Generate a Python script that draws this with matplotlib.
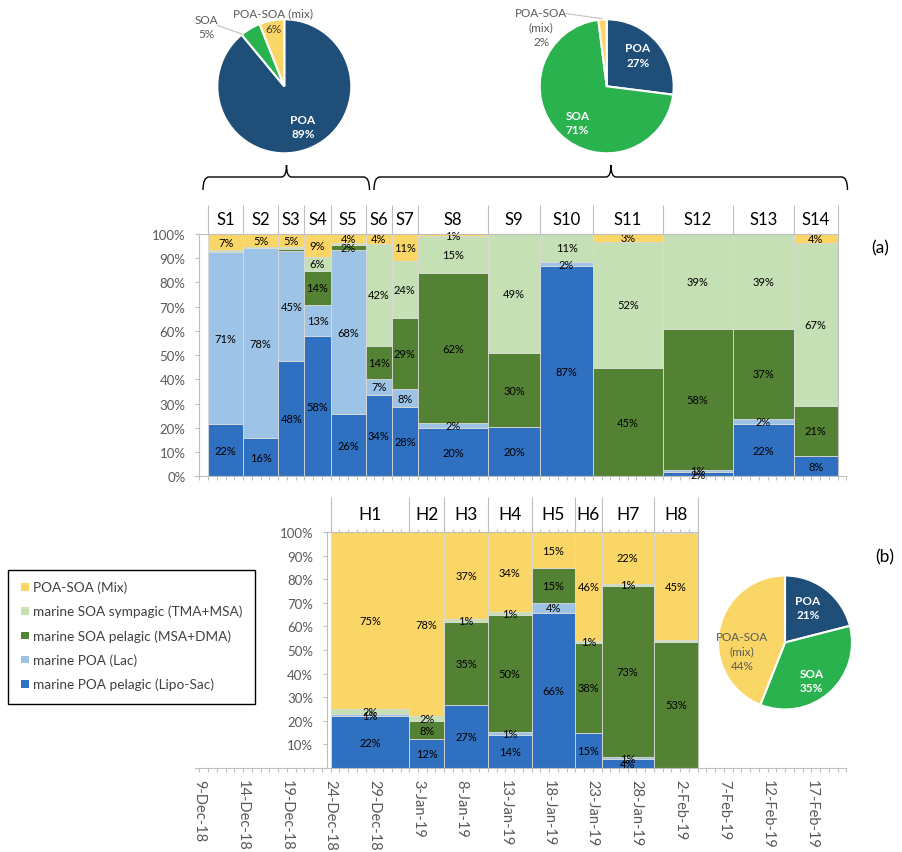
import matplotlib
matplotlib.use('Agg')
import matplotlib.pyplot as plt
from matplotlib.patches import Rectangle, PathPatch
from matplotlib.path import Path
import numpy as np
import datetime as dt

plt.rcParams['font.family'] = ['Lato', 'DejaVu Sans']

W, H, DPI = 903, 853, 100

# ---------------- data ----------------
series_names = ['marine POA pelagic (Lipo-Sac)', 'marine POA (Lac)',
                'marine SOA pelagic (MSA+DMA)', 'marine SOA sympagic (TMA+MSA)',
                'POA-SOA (Mix)']
series_colors = ['#3070C0', '#9DC3E6', '#548235', '#C5E0B4', '#FAD666']

ship_samples = ['S1', 'S2', 'S3', 'S4', 'S5', 'S6', 'S7', 'S8', 'S9', 'S10',
                'S11', 'S12', 'S13', 'S14']
ship_edges = ['2018-12-10', '2018-12-14', '2018-12-18', '2018-12-21', '2018-12-24',
              '2018-12-28', '2018-12-31', '2019-01-03', '2019-01-11', '2019-01-17',
              '2019-01-23', '2019-01-31', '2019-02-08', '2019-02-15', '2019-02-20']
ship_poa_pelagic = [21.6, 15.7, 47.5, 58.0, 25.6, 33.6, 28.4, 19.8, 20.4, 86.6, 0, 1.8, 21.7, 8.3]
ship_poa_lac = [70.8, 78.4, 45.3, 12.8, 67.9, 6.6, 7.6, 2.0, 0, 2.0, 0, 1.0, 2.0, 0]
ship_soa_pelagic = [0, 0, 0.9, 14.0, 2.1, 13.6, 29.2, 62.2, 30.4, 0, 44.6, 58.0, 37.1, 20.9]
ship_soa_sympagic = [0.9, 0.7, 0.8, 5.9, 0.8, 42.2, 23.8, 15.0, 49.2, 11.4, 52.2, 39.2, 39.2, 67.2]
ship_mix = [6.6, 5.2, 5.4, 9.3, 3.6, 4.0, 11.0, 1.0, 0, 0, 3.2, 0, 0, 3.6]

heli_samples = ['H1', 'H2', 'H3', 'H4', 'H5', 'H6', 'H7', 'H8']
heli_edges = ['2018-12-24', '2019-01-02', '2019-01-06', '2019-01-11', '2019-01-16',
              '2019-01-21', '2019-01-24', '2019-01-30', '2019-02-04']
heli_poa_pelagic = [21.8, 12.0, 26.8, 14.0, 65.7, 14.8, 3.6, 0]
heli_poa_lac = [1.0, 0, 0, 1.0, 4.4, 0, 1.0, 0]
heli_soa_pelagic = [0, 8.0, 35.0, 50.0, 14.8, 38.2, 72.6, 53.4]
heli_soa_sympagic = [2.0, 2.0, 1.2, 1.0, 0, 1.0, 1.0, 0.9]
heli_mix = [75.2, 78.0, 37.0, 34.0, 15.1, 46.0, 21.8, 45.4]

pie_names = ['POA', 'SOA', 'POA-SOA (mix)']
pie_colors = ['#1F4E79', '#29B24E', '#FAD666']
pie_ship_1 = [89, 5, 6]     # S1-S5
pie_ship_2 = [27, 71, 2]    # S6-S14
pie_heli = [21, 35, 44]     # H1-H8

date_axis_start = '2018-12-09'
date_axis_end_days = 74.0

# ---------------- helpers ----------------
base = dt.date.fromisoformat(date_axis_start)


def day(s):
    return (dt.date.fromisoformat(s) - base).days


def px_rect(x0, y0, x1, y1):
    return [x0 / W, 1 - y1 / H, (x1 - x0) / W, (y1 - y0) / H]


GRAY = '#BFBFBF'
TXT = '#595959'
X0_PX, PX_PER_DAY = 199.5, 8.74
XLIM = (-0.5, date_axis_end_days)
ax_left = X0_PX + XLIM[0] * PX_PER_DAY
ax_right = X0_PX + XLIM[1] * PX_PER_DAY

fig = plt.figure(figsize=(W / DPI, H / DPI), dpi=DPI)


def draw_stack(ax, edges, series):
    d = np.array([day(e) for e in edges], float)
    lefts, widths = d[:-1], np.diff(d)
    bottom = np.zeros(len(lefts))
    for vals, col in zip(series, series_colors):
        vals = np.array(vals, float)
        m = vals > 0
        ax.bar(lefts[m], vals[m], width=widths[m], bottom=bottom[m], align='edge',
               color=col, edgecolor='#D9D9D9', linewidth=0.6, zorder=2)
        for l, w, v, b in zip(lefts, widths, vals, bottom):
            if v >= 1:
                ax.text(l + w / 2, b + v / 2, f'{round(v)}%', ha='center', va='center',
                        fontsize=8, color='black', zorder=3)
        bottom += vals
    return d


def style_axis(ax, yaxis_day, ylab_first):
    ax.set_xlim(*XLIM)
    ax.set_ylim(0, 100)
    for s in ['top', 'right']:
        ax.spines[s].set_visible(False)
    for s in ['left', 'bottom']:
        ax.spines[s].set_color(GRAY)
        ax.spines[s].set_linewidth(0.8)
    ax.spines['left'].set_position(('data', yaxis_day))
    ax.set_yticks(np.arange(0, 101, 10))
    ax.set_yticklabels([(f'{v}%' if (v > 0 or ylab_first) else '') for v in range(0, 101, 10)])
    ax.tick_params(axis='y', colors=GRAY, labelcolor=TXT, labelsize=9.5, length=3, width=0.8, pad=7.0)
    ax.set_xticks(np.arange(0, int(XLIM[1]) + 1, 1), minor=True)
    ax.tick_params(axis='x', which='both', colors=GRAY, length=3.2, width=0.8)
    ax.patch.set_alpha(0)


# ---------------- top chart (a) ----------------
axA = fig.add_axes(px_rect(ax_left, 235.0, ax_right, 477.3))
dA = draw_stack(axA, ship_edges, [ship_poa_pelagic, ship_poa_lac, ship_soa_pelagic,
                                   ship_soa_sympagic, ship_mix])
style_axis(axA, 0, True)
axA.set_xticks([])
axA.plot([0, dA[-1]], [100, 100], color=GRAY, lw=0.8, zorder=4, clip_on=False)
axA.plot([dA[-1], dA[-1]], [0, 100], color=GRAY, lw=0.8, zorder=4, clip_on=False)
axA.vlines(dA, 100, 112, colors=GRAY, lw=0.8, clip_on=False)
for name, l, r in zip(ship_samples, dA[:-1], dA[1:]):
    axA.text((l + r) / 2, 106.3, name, ha='center', va='center', fontsize=12,
             color='black', clip_on=False)

# ---------------- bottom chart (b) ----------------
axB = fig.add_axes(px_rect(ax_left, 533.3, ax_right, 768.7))
dB = draw_stack(axB, heli_edges, [heli_poa_pelagic, heli_poa_lac, heli_soa_pelagic,
                                   heli_soa_sympagic, heli_mix])
yB = dB[0] - 0.4
style_axis(axB, yB, False)
major = np.arange(0, int(XLIM[1]) + 1, 5)
axB.set_xticks(major)
axB.set_xticklabels([(base + dt.timedelta(days=int(v))).strftime('%-d-%b-%y') for v in major],
                    rotation=-90)
axB.tick_params(axis='x', which='major', labelcolor=TXT, labelsize=10.5, pad=5)
axB.plot([yB, dB[-1]], [100, 100], color=GRAY, lw=0.8, zorder=4, clip_on=False)
axB.plot([dB[-1], dB[-1]], [0, 100], color=GRAY, lw=0.8, zorder=4, clip_on=False)
axB.vlines(np.arange(dB[0], dB[-1] + 1), 100, 101.5, colors=GRAY, lw=0.8, clip_on=False)
axB.vlines(dB, 100, 115, colors=GRAY, lw=0.8, clip_on=False)
for name, l, r in zip(heli_samples, dB[:-1], dB[1:]):
    axB.text((l + r) / 2, 107.8, name, ha='center', va='center', fontsize=12.5,
             color='black', clip_on=False)

# ---------------- pies ----------------
R = 67


def draw_pie(cx, cy, vals, labels):
    ax = fig.add_axes(px_rect(cx - R, cy - R, cx + R, cy + R))
    ax.pie(vals, colors=pie_colors, startangle=90, counterclock=False, radius=1,
           wedgeprops=dict(edgecolor='white', linewidth=1.5))
    ax.set_xlim(-1, 1)
    ax.set_ylim(-1, 1)
    ax.set_aspect('equal')
    ax.axis('off')
    for txt, x, y, col, wt in labels:
        ax.text(x, y, txt, ha='center', va='center', fontsize=8.5, color=col,
                fontweight=wt, linespacing=1.4, clip_on=False)
    return ax


def pct(name, v):
    return f'{name}\n{v}%'


p1 = draw_pie(284.3, 87.3, pie_ship_1, [
    (pct(pie_names[0], pie_ship_1[0]), 0.28, -0.60, 'white', 'bold'),
    (pct(pie_names[1], pie_ship_1[1]), -1.16, 0.89, TXT, 'normal'),
    (pie_names[2], -0.17, 1.10, TXT, 'normal'),
    (f'{pie_ship_1[2]}%', -0.16, 0.87, '#404040', 'normal'),
])
p1.plot([-1.0, -0.63], [0.91, 0.78], color=GRAY, lw=0.8, clip_on=False)

p2 = draw_pie(606.7, 87.3, pie_ship_2, [
    (pct(pie_names[0], pie_ship_2[0]), 0.465, 0.465, 'white', 'bold'),
    (pct(pie_names[1], pie_ship_2[1]), -0.435, -0.54, 'white', 'bold'),
    ('POA-SOA\n(mix)\n' + f'{pie_ship_2[2]}%', -0.975, 0.885, TXT, 'normal'),
])
p2.plot([-0.6, -0.075], [1.085, 1.01], color=GRAY, lw=0.8, clip_on=False)

draw_pie(785.0, 643.5, pie_heli, [
    (pct(pie_names[0], pie_heli[0]), 0.34, 0.525, 'white', 'bold'),
    (pct(pie_names[1], pie_heli[1]), 0.40, -0.57, 'white', 'bold'),
    ('POA-SOA\n(mix)\n' + f'{pie_heli[2]}%', -0.64, -0.127, TXT, 'normal'),
])

# ---------------- overlay: braces, legend, panel tags ----------------
ov = fig.add_axes([0, 0, 1, 1])
ov.set_xlim(0, W)
ov.set_ylim(H, 0)
ov.axis('off')


def brace(x0, x1, xt, y_end=191, y_line=178, y_tip=166):
    verts = [(x0, y_end), (x0, y_line), (x0 + 6, y_line),
             (xt - 5, y_line), (xt, y_line), (xt, y_tip),
             (xt, y_line), (xt + 5, y_line),
             (x1 - 6, y_line), (x1, y_line), (x1, y_end)]
    codes = [Path.MOVETO, Path.CURVE3, Path.CURVE3,
             Path.LINETO, Path.CURVE3, Path.CURVE3,
             Path.CURVE3, Path.CURVE3,
             Path.LINETO, Path.CURVE3, Path.CURVE3]
    ov.add_patch(PathPatch(Path(verts, codes), facecolor='none', edgecolor='black', lw=1))


brace(203, 369.5, 286.5)
brace(374, 847.5, 611)

ov.add_patch(Rectangle((8, 570.5), 247, 134.5, facecolor='white', edgecolor='black', lw=1))
for i, (name, col) in enumerate(zip(series_names[::-1], series_colors[::-1])):
    y = 588 + i * 24.2
    ov.add_patch(Rectangle((21.5, y - 3.8), 7.6, 7.6, facecolor=col, edgecolor='none'))
    ov.text(33, y, name, ha='left', va='center', fontsize=9.8, color='#404040')

ov.text(880, 248, '(a)', ha='center', va='center', fontsize=12.5, color='black')
ov.text(885, 557, '(b)', ha='center', va='center', fontsize=12.5, color='black')

fig.savefig('out.png', dpi=DPI)
